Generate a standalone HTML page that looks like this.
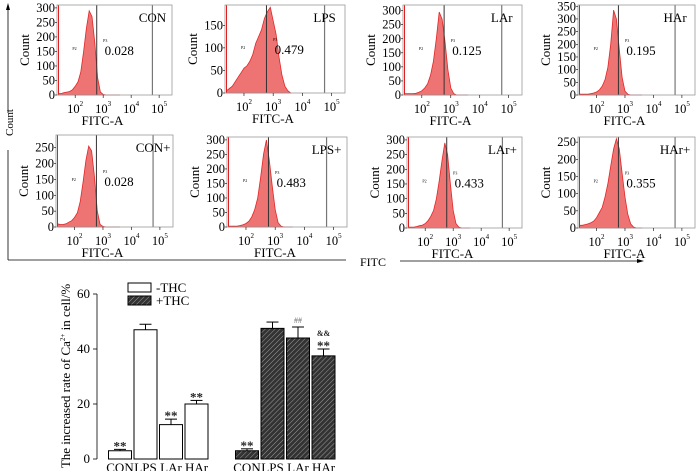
<!DOCTYPE html>
<html><head><meta charset="utf-8"><style>
body{margin:0;background:#fff;}
svg{display:block;font-family:"Liberation Serif",serif;}
</style></head><body>
<svg id="fig" width="700" height="471" viewBox="0 0 700 471">
<defs>
<pattern id="hatch" patternUnits="userSpaceOnUse" width="3.5" height="3.5" patternTransform="rotate(45)">
<rect width="3.5" height="3.5" fill="#333"/><line x1="0" y1="0" x2="0" y2="3.5" stroke="#a8a8a8" stroke-width="0.9"/>
</pattern>
</defs>
<g id="outer">
<line x1="8" y1="113" x2="8" y2="8" stroke="#000" stroke-width="0.8"/>
<polygon points="8,3 6,10 10,10" fill="#000"/>
<text x="0" y="0" transform="translate(13,136) rotate(-90)" font-size="11">Count</text>
<line x1="8" y1="150" x2="8" y2="260" stroke="#000" stroke-width="0.8"/>
<line x1="8" y1="260" x2="346" y2="260" stroke="#000" stroke-width="0.8"/>
<text x="360" y="266" font-size="12">FITC</text>
<line x1="400" y1="261" x2="638" y2="261" stroke="#000" stroke-width="0.8"/>
<polygon points="644,261 637,259 637,263" fill="#000"/>
</g>
<g id="panels"></g>
<g id="bars"></g>
</svg>
<script>
// ---------- histogram data ----------
const histBins = [1.4,1.5,1.6,1.7,1.8,1.9,2.0,2.1,2.2,2.3,2.4,2.5,2.6,2.7,2.8,2.9,3.0,3.1,3.2,3.3,3.4,3.5,3.6];
const hCON   = [5,5,8,10,12,18,30,45,80,150,230,290,270,180,60,10,2,0,0,0,0,0,0];
const hLPS   = [5,10,15,25,35,45,55,60,70,85,110,125,140,165,180,190,160,130,80,40,15,5,0];
const hLAr   = [5,5,5,5,6,10,15,25,40,70,120,200,295,270,190,90,25,5,0,0,0,0,0];
const hHAr   = [3,3,3,3,5,8,12,20,35,60,110,200,335,300,180,70,15,3,0,0,0,0,0];
const hCONp  = [10,8,8,10,15,20,30,45,80,140,210,255,240,160,50,8,2,0,0,0,0,0,0];
const hLPSp  = [3,3,3,3,5,8,12,20,35,60,100,170,250,300,230,140,60,15,3,0,0,0,0];
const hLArp  = [3,3,3,5,8,10,15,25,40,60,100,160,230,290,250,150,60,15,3,0,0,0,0];
const hHArp  = [8,8,10,12,15,20,30,45,60,90,130,180,230,260,230,160,90,40,12,3,0,0,0];
const panelNames  = ["CON","LPS","LAr","HAr","CON+","LPS+","LAr+","HAr+"];
const panelValues = ["0.028","0.479","0.125","0.195","0.028","0.483","0.433","0.355"];
const panelYmax   = [310,195,320,355,290,310,310,265];
const panelYtop   = [300,150,300,350,250,300,300,250];
const hists = [hCON,hLPS,hLAr,hHAr,hCONp,hLPSp,hLArp,hHArp];
const boxes = [[57,172,5,95],[225,345,5,93],[403,522,5,95],[578,695,5,95],[56,173,135,227],[227,347,137,227],[407,522,137,228],[578,695,137,228]];
const NS="http://www.w3.org/2000/svg";
function mk(tag,attrs,parent){const e=document.createElementNS(NS,tag);for(const k in attrs)e.setAttribute(k,attrs[k]);parent.appendChild(e);return e;}
const LMIN=1.35, LMAX=5.46;
const P=document.getElementById('panels');
panelNames.forEach((nm,i)=>{
  const [x0,x1,y0,y1]=boxes[i];
  const g=mk('g',{},P);
  
  
  const sx=l=>x0+(l-LMIN)/(LMAX-LMIN)*(x1-x0);
  const sy=v=>y1-v/panelYmax[i]*(y1-y0);
  let d='M'+sx(histBins[0])+','+y1;
  hists[i].forEach((v,j)=>{d+=' L'+sx(histBins[j]).toFixed(1)+','+sy(v).toFixed(1);});
  d+=' L'+sx(histBins[histBins.length-1])+','+y1+' Z';
  const a=mk('path',{d:d,fill:'#ee7373',stroke:'#e02828','stroke-width':0.8},g);
  
  
  mk('line',{x1:x0+1.5,y1:y0,x2:x0+1.5,y2:y1,stroke:'#e02020','stroke-width':1},g);
  mk('line',{x1:sx(2.77),y1:y0,x2:sx(2.77),y2:y1,stroke:'#333','stroke-width':1},g);
  mk('line',{x1:sx(4.76),y1:y0,x2:sx(4.76),y2:y1,stroke:'#777','stroke-width':1.2},g);
  mk('rect',{x:x0,y:y0,width:x1-x0,height:y1-y0,fill:'none',stroke:'#999','stroke-width':0.8},g);
  for(let v=0;v<=panelYtop[i];v+=50){
    const y=sy(v);
    mk('line',{x1:x0-2,y1:y,x2:x0,y2:y,stroke:'#000','stroke-width':0.6},g);
    const t=mk('text',{x:x0-2,y:y+4,'font-size':12.5,'text-anchor':'end'},g);t.textContent=v;
    
    
  }
  [2,3,4,5].forEach(p=>{
    const x=sx(p);
    mk('line',{x1:x,y1:y1,x2:x,y2:y1+3,stroke:'#000','stroke-width':0.6},g);
    const t=mk('text',{x:x-8,y:y1+18,'font-size':12.5},g);t.textContent='10';
    
    
    const s=mk('text',{x:x+4.5,y:y1+11,'font-size':7},g);s.textContent=p;
  });
  const xl=mk('text',{x:(x0+x1)/2-12,y:y1+30,'font-size':13,'text-anchor':'middle'},g);xl.textContent='FITC-A';
  
  
  const yl=mk('text',{x:0,y:0,'font-size':13,'text-anchor':'middle',transform:'translate('+(x0-28)+','+((y0+y1)/2)+') rotate(-90)'},g);yl.textContent='Count';
  
  
  const nt=mk('text',{x:x0+0.83*(x1-x0),y:y0+17,'font-size':13,'text-anchor':'middle'},g);nt.textContent=nm;
  
  
  const vt=mk('text',{x:sx(3.05),y:(y0+y1)/2+5,'font-size':13},g);vt.textContent=panelValues[i];
  
  
  const p2=mk('text',{x:sx(1.9),y:(y0+y1)/2,'font-size':4},g);p2.textContent='P2';
  const p3=mk('text',{x:sx(3.0),y:(y0+y1)/2-8,'font-size':4},g);p3.textContent='P3';
});

// ---------- bar chart data ----------
const barCats = ["CON","LPS","LAr","HAr"];
const minusTHC = [3,47,12.5,20];
const minusErr = [0.5,2,2,1.3];
const plusTHC  = [3,47.5,44,37.5];
const plusErr  = [0.7,2.3,4,2.5];
const yTicks   = [0,20,40,60];
const minusMarks = ["**","","**","**"];
const plusMarks  = ["**","","##","&&\n**"];
const B=document.getElementById('bars');
const Y0=459, Y60=294;
const by=v=>Y0-v/60*(Y0-Y60);
mk('line',{x1:97,y1:Y60,x2:97,y2:Y0,stroke:'#000','stroke-width':0.8},B);
yTicks.forEach(v=>{
  mk('line',{x1:93,y1:by(v),x2:97,y2:by(v),stroke:'#000','stroke-width':0.8},B);
  const t=mk('text',{x:90,y:by(v)+4,'font-size':13,'text-anchor':'end'},B);t.textContent=v;
  
  
});
const yt=mk('text',{x:0,y:0,'font-size':13,'text-anchor':'middle',transform:'translate(70,376) rotate(-90)'},B);
yt.innerHTML='The increased rate of Ca<tspan dy="-5" font-size="7">2+</tspan><tspan dy="5"> in cell/%</tspan>';


function group(vals,errs,marks,startX,fill,tag){
  vals.forEach((v,i)=>{
    const cx=startX+i*25.5, w=23;
    const r=mk('rect',{x:cx-w/2,y:by(v),width:w,height:Y0-by(v),fill:fill,stroke:'#000','stroke-width':1},B);
    
    
    const ye=by(v+errs[i]);
    mk('line',{x1:cx,y1:by(v),x2:cx,y2:ye,stroke:'#000','stroke-width':1},B);
    mk('line',{x1:cx-6,y1:ye,x2:cx+6,y2:ye,stroke:'#000','stroke-width':1},B);
    const lines=marks[i]?marks[i].split('\n'):[];
    lines.forEach((m,k)=>{
      const t=mk('text',{x:cx,y:ye-4-(lines.length-1-k)*9+(m==='**'?5:0),'font-size':m==='**'?13:8,'text-anchor':'middle','font-weight':'bold',fill:m==='##'?'#888':'#222'},B);
      t.textContent=m;
      
      
    });
    const c=mk('text',{x:cx,y:472,'font-size':13,'text-anchor':'middle'},B);c.textContent=barCats[i];
    
    
  });
}
group(minusTHC,minusErr,minusMarks,120,'#fff','minus-thc');
group(plusTHC,plusErr,plusMarks,247,'url(#hatch)','plus-thc');
const lg=mk('g',{},B);


mk('rect',{x:128,y:283,width:23,height:9,fill:'#fff',stroke:'#000','stroke-width':1},lg);
const l1=mk('text',{x:156,y:292,'font-size':13},lg);l1.textContent='-THC';
mk('rect',{x:128,y:296,width:23,height:9,fill:'url(#hatch)',stroke:'#000','stroke-width':1},lg);
const l2=mk('text',{x:156,y:305,'font-size':13},lg);l2.textContent='+THC';
</script>
</body></html>
